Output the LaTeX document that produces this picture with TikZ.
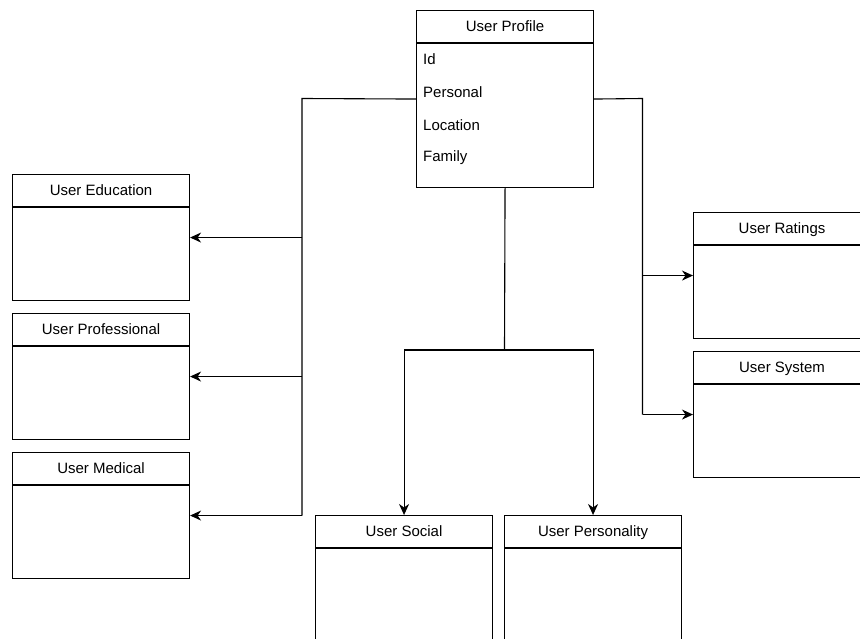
\documentclass[tikz,border=0pt]{standalone}
\usepackage{fontspec}
\setmainfont{Liberation Sans}
\usetikzlibrary{arrows.meta,calc}
\begin{document}
\begin{tikzpicture}[x=1pt,y=-1pt,
  every node/.style={font=\fontsize{15}{17}\selectfont, inner sep=0pt},
  ent/.style={draw, line width=1.1pt, anchor=north west, minimum width=177pt, minimum height=126pt, fill=white},
  hdr/.style={anchor=north, minimum height=33pt, text height=11pt, text depth=3pt, yshift=-0.5pt},
  item/.style={anchor=west},
  conn/.style={line width=1.1pt},
  arr/.style={conn, -{Stealth[length=11pt,width=10pt,inset=3.5pt]}}
]
\clip (0,0) rectangle (860,639);
\fill[white] (0,0) rectangle (860,639);

% boxes
\node[ent, minimum height=177pt] (prof) at (416,10) {};
\node[ent] (edu)  at (12,174) {};
\node[ent] (pro)  at (12,313) {};
\node[ent] (med)  at (12,452) {};
\node[ent] (rat)  at (693,212) {};
\node[ent] (sys)  at (693,351) {};
\node[ent, minimum height=160pt] (soc)  at (315,515) {};
\node[ent, minimum height=160pt] (per)  at (504,515) {};

% headers
\foreach \b/\t in {prof/User Profile, edu/User Education, pro/User Professional, med/User Medical, rat/User Ratings, sys/User System, soc/User Social, per/User Personality}{
  \node[hdr] (\b-h) at (\b.north) {\t};
  \draw[line width=1.1pt] ($(\b.north west)+(0,33)$) -- ($(\b.north east)+(0,33)$);
}

% profile items
\node[item] (p1) at (423,59) {Id};
\node[item] (p2) at (423,92) {Personal};
\node[item] (p3) at (423,125) {Location};
\node[item] (p4) at (423,158) {Family};

% connectors
\coordinate (L) at (302,98.5);
\coordinate (R) at (642.5,98.5);
\coordinate (B) at (504.5,350);
\draw[conn] (prof.west) -- (L) -- (L |- med.east);
\draw[arr] (L |- edu.east) -- (edu.east);
\draw[arr] (L |- pro.east) -- (pro.east);
\draw[arr] (L |- med.east) -- (med.east);
\draw[conn] (prof.east) -- (R) -- (R |- sys.west);
\draw[arr] (R |- rat.west) -- (rat.west);
\draw[arr] (R |- sys.west) -- (sys.west);
\draw[conn] (prof.south) -- (B);
\draw[arr] (B) -| (soc.north);
\draw[arr] (B) -| (per.north);
\end{tikzpicture}
\end{document}
